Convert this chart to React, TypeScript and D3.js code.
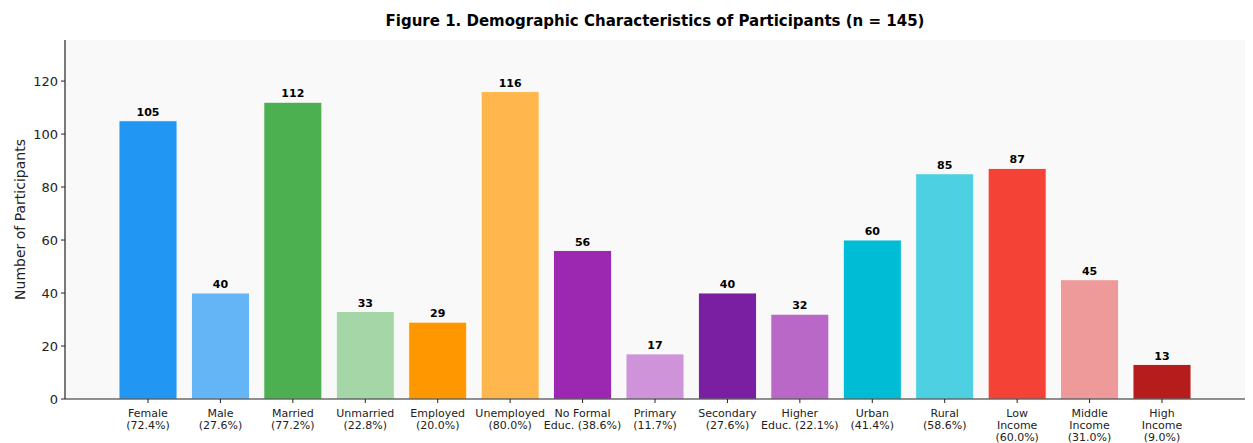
import React from "react";
import * as d3 from "d3";

const categories: string[][] = [
  ["Female", "(72.4%)"],
  ["Male", "(27.6%)"],
  ["Married", "(77.2%)"],
  ["Unmarried", "(22.8%)"],
  ["Employed", "(20.0%)"],
  ["Unemployed", "(80.0%)"],
  ["No Formal", "Educ. (38.6%)"],
  ["Primary", "(11.7%)"],
  ["Secondary", "(27.6%)"],
  ["Higher", "Educ. (22.1%)"],
  ["Urban", "(41.4%)"],
  ["Rural", "(58.6%)"],
  ["Low", "Income", "(60.0%)"],
  ["Middle", "Income", "(31.0%)"],
  ["High", "Income", "(9.0%)"],
];
const counts: number[] = [105, 40, 112, 33, 29, 116, 56, 17, 40, 32, 60, 85, 87, 45, 13];
const colors: string[] = [
  "#2196F3", "#64B5F6", "#4CAF50", "#A5D6A7", "#FF9800", "#FFB74D",
  "#9C27B0", "#CE93D8", "#7B1FA2", "#BA68C8", "#00BCD4", "#4DD0E1",
  "#F44336", "#EF9A9A", "#B71C1C",
];
const yTicks: number[] = [0, 20, 40, 60, 80, 100, 120];
const title = "Figure 1. Demographic Characteristics of Participants (n = 145)";
const yLabel = "Number of Participants";

const W = 1253, H = 443;
const left = 65, right = 1245, top = 40, bottom = 399;
const font = "'DejaVu Sans', sans-serif";

export default function App() {
  const n = counts.length;
  const x = d3.scaleLinear().domain([-1.146, n - 1 + 1.146]).range([left, right]);
  const y = d3.scaleLinear().domain([0, 135.5]).range([bottom, top]);
  const bw = x(0.8) - x(0);
  return (
    <svg width={W} height={H} style={{ position: "absolute", left: 0, top: 0, background: "#fff" }}>
      <rect x={left} y={top} width={right - left} height={bottom - top} fill="#f9f9f9" />
      {counts.map((v, i) => (
        <g key={i}>
          <rect x={x(i) - bw / 2} y={y(v)} width={bw} height={y(0) - y(v)} fill={colors[i]} stroke="#fff" strokeWidth={0.8} />
          <text x={x(i)} y={y(v) - 5} textAnchor="middle" fontFamily={font} fontSize={11} fontWeight="bold" fill="#000">{v}</text>
        </g>
      ))}
      <line x1={left} x2={left} y1={top} y2={bottom} stroke="#222" strokeWidth={1.2} />
      <line x1={left} x2={right} y1={bottom} y2={bottom} stroke="#222" strokeWidth={1.2} />
      {yTicks.map((t) => (
        <g key={t}>
          <line x1={left - 4} x2={left} y1={y(t)} y2={y(t)} stroke="#222" />
          <text x={left - 7} y={y(t)} dy="0.35em" textAnchor="end" fontFamily={font} fontSize={13} fill="#222">{t}</text>
        </g>
      ))}
      {categories.map((lines, i) => (
        <g key={i}>
          <line x1={x(i)} x2={x(i)} y1={bottom} y2={bottom + 4} stroke="#222" />
          <text x={x(i)} textAnchor="middle" fontFamily={font} fontSize={11} fill="#222">
            {lines.map((l, j) => (
              <tspan key={j} x={x(i)} y={416.5 + j * 12.4}>{l}</tspan>
            ))}
          </text>
        </g>
      ))}
      <text transform={`translate(25,${(top + bottom) / 2}) rotate(-90)`} textAnchor="middle" fontFamily={font} fontSize={14} fill="#222">{yLabel}</text>
      <text x={(left + right) / 2} y={26} textAnchor="middle" fontFamily={font} fontSize={15} fontWeight="bold" fill="#000">{title}</text>
    </svg>
  );
}
